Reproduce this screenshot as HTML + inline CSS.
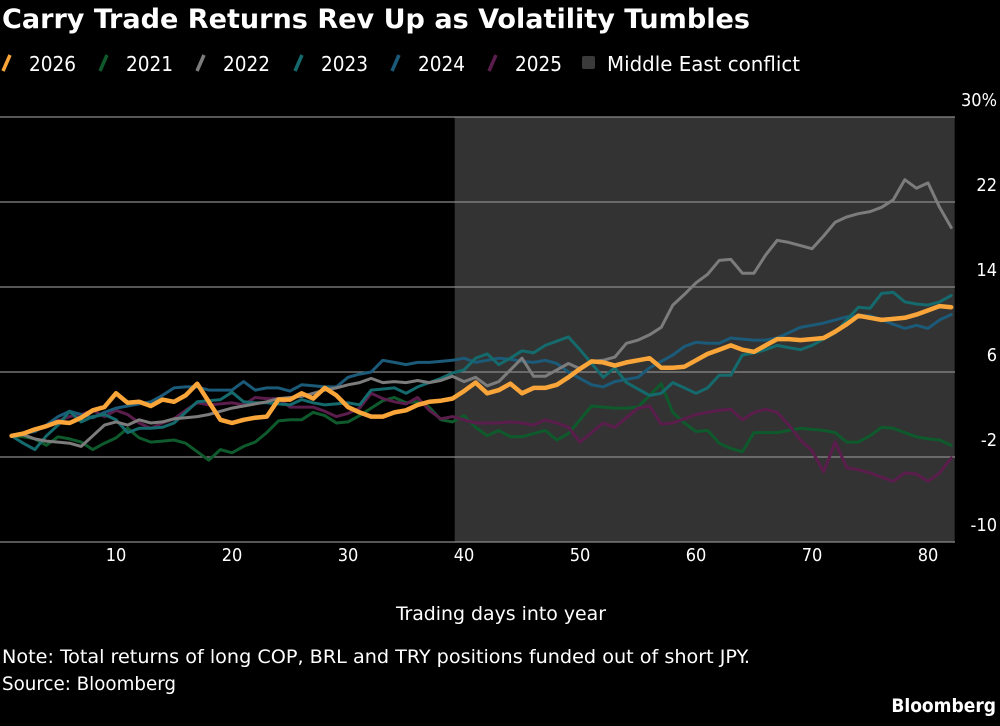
<!DOCTYPE html>
<html><head><meta charset="utf-8">
<style>
body{margin:0;background:#000;width:1000px;height:722px;overflow:hidden;font-family:"DejaVu Sans Condensed","DejaVu Sans","Liberation Sans",sans-serif;color:#fff}
svg text{font-family:"DejaVu Sans Condensed","DejaVu Sans","Liberation Sans",sans-serif;fill:#fff}
</style></head><body>
<svg id="chart" width="1000" height="722" viewBox="0 0 1000 722">
<rect width="1000" height="722" fill="#000"/>
<text x="2" y="28" font-size="27" font-weight="bold" textLength="748" lengthAdjust="spacingAndGlyphs">Carry Trade Returns Rev Up as Volatility Tumbles</text>
<g id="legend"></g>
<rect id="shade" fill="#333" />
<g id="grid"></g>
<g id="series"></g>
<g id="xticks"></g>
<text x="396" y="620" font-size="19" textLength="210" lengthAdjust="spacingAndGlyphs">Trading days into year</text>
<text x="2" y="663" font-size="19" textLength="748" lengthAdjust="spacingAndGlyphs">Note: Total returns of long COP, BRL and TRY positions funded out of short JPY.</text>
<text x="2" y="690" font-size="19" textLength="174" lengthAdjust="spacingAndGlyphs">Source: Bloomberg</text>
<text x="996" y="712" font-size="19" font-weight="bold" text-anchor="end">Bloomberg</text>
</svg>
<script>
const yTicks=[30,22,14,6,-2,-10];
const yTickLabels=["30%","22","14","6","-2","-10"];
const xTicks=[10,20,30,40,50,60,70,80];
const conflictStart=39.2, conflictEnd=82.3;
const seriesNames=["2026","2021","2022","2023","2024","2025"];
const s2021=[0,-0.1,-0.3,-0.9,-0.1,-0.3,-0.6,-1.3,-0.7,-0.2,0.7,-0.2,-0.6,-0.5,-0.4,-0.7,-1.5,-2.3,-1.3,-1.6,-1.0,-0.6,0.3,1.4,1.5,1.5,2.2,1.9,1.2,1.3,1.9,2.6,3.3,3.6,3.1,3.2,2.7,1.5,1.3,1.9,0.8,0.0,0.5,-0.1,-0.1,0.2,0.5,-0.4,0.2,1.5,2.8,2.7,2.6,2.6,2.7,3.8,4.9,2.2,1.2,0.4,0.5,-0.7,-1.2,-1.5,0.3,0.3,0.3,0.5,0.7,0.6,0.5,0.3,-0.6,-0.6,0.0,0.8,0.7,0.3,-0.1,-0.3,-0.4,-0.9];
const s2022=[0,0.1,-0.3,-0.5,-0.6,-0.7,-1.0,0.0,1.0,1.3,1.0,1.5,1.2,1.3,1.6,1.7,1.8,2.0,2.3,2.6,2.8,3.0,3.2,3.5,3.6,3.7,4.0,4.3,4.5,4.8,5.0,5.4,5.0,5.1,5.0,5.2,5.0,5.2,5.6,5.1,5.5,4.7,5.1,6.2,7.3,5.6,5.6,6.2,6.8,6.3,7.0,7.1,7.4,8.7,9.0,9.5,10.2,12.3,13.3,14.4,15.2,16.5,16.6,15.3,15.3,17.0,18.4,18.2,17.9,17.6,18.8,20.1,20.6,20.9,21.1,21.5,22.2,24.1,23.3,23.8,21.5,19.6];
const s2023=[0,-0.7,-1.3,0.0,1.0,2.3,1.3,1.8,2.0,1.5,0.3,0.7,0.7,0.8,1.2,2.2,3.2,3.3,3.4,4.1,3.2,3.1,3.1,3.0,2.9,3.4,3.1,2.9,3.0,3.1,2.9,4.3,4.4,4.5,4.0,4.6,5.0,5.4,5.9,6.2,7.3,7.7,6.7,7.3,8.0,7.8,8.5,8.9,9.3,8.1,6.8,5.5,6.4,5.0,4.4,3.8,4.0,5.0,4.5,4.0,4.5,5.7,5.7,7.6,7.8,8.1,8.5,8.3,8.1,8.5,9.1,9.7,10.9,12.1,12.0,13.4,13.5,12.6,12.4,12.3,12.6,13.2];
const s2024=[0,0.2,0.4,1.0,1.8,2.3,2.0,1.7,2.2,2.6,2.8,3.0,3.2,3.8,4.5,4.6,4.6,4.3,4.3,4.3,5.1,4.3,4.5,4.5,4.2,4.8,4.7,4.6,4.6,5.5,5.8,6.0,7.1,6.9,6.7,6.9,6.9,7.0,7.1,7.3,6.9,7.1,7.3,7.2,7.0,6.9,7.1,6.8,6.0,5.4,4.8,4.6,5.1,5.3,5.5,6.4,7.0,7.6,8.4,8.8,8.7,8.7,9.2,9.1,9.0,9.0,9.2,9.7,10.2,10.4,10.6,10.9,11.2,11.3,11.3,10.9,10.5,10.1,10.4,10.1,10.9,11.4];
const s2025=[0,0.2,0.5,1.0,1.4,1.8,2.0,2.4,1.8,2.4,2.0,1.2,0.7,1.2,1.6,2.4,3.1,2.9,3.0,3.1,2.9,3.6,3.5,3.5,2.7,2.7,2.7,2.3,1.8,2.1,2.6,4.0,3.5,3.2,3.0,3.6,2.4,1.6,1.8,1.5,1.2,1.2,1.2,1.3,1.2,1.0,1.5,1.2,0.8,-0.6,0.3,1.2,0.8,1.7,2.6,2.8,1.1,1.2,1.6,2.0,2.2,2.4,2.5,1.5,2.2,2.5,2.2,1.0,-0.4,-1.4,-3.4,-0.6,-3.0,-3.2,-3.5,-3.9,-4.3,-3.5,-3.6,-4.3,-3.5,-2.1];
const s2026=[0,0.2,0.6,0.9,1.3,1.2,1.7,2.4,2.7,4.0,3.1,3.2,2.8,3.4,3.2,3.8,4.9,3.2,1.5,1.2,1.5,1.7,1.8,3.4,3.4,4.0,3.5,4.5,3.8,2.7,2.2,1.8,1.8,2.2,2.4,2.9,3.2,3.3,3.5,4.2,5.0,4.0,4.3,4.9,4.0,4.5,4.5,4.8,5.5,6.3,7.0,6.9,6.6,6.9,7.1,7.3,6.4,6.4,6.5,7.1,7.7,8.1,8.5,8.1,7.9,8.5,9.1,9.1,9.0,9.1,9.2,9.8,10.5,11.3,11.1,10.9,11.0,11.1,11.4,11.8,12.2,12.1];

const NS="http://www.w3.org/2000/svg";
const X=d=>116+(d-10)*11.6;
const Y=v=>117+(30-v)*10.625;
const PL=0, PR=955;
function mk(tag,attrs,parent){const e=document.createElementNS(NS,tag);for(const k in attrs)e.setAttribute(k,attrs[k]);parent.appendChild(e);return e;}

const shade=document.getElementById('shade');
shade.setAttribute('x',X(conflictStart));shade.setAttribute('y',Y(30));
shade.setAttribute('width',X(conflictEnd)-X(conflictStart));shade.setAttribute('height',Y(-10)-Y(30));

const grid=document.getElementById('grid');
yTicks.forEach((t,i)=>{
  const l=mk('line',{x1:PL,x2:PR,y1:Y(t),y2:Y(t),stroke:'#8a8a8a','stroke-width':1.3},grid);
  
  
  const tx=mk('text',{x:997,y:Y(t)-11,'font-size':18,'text-anchor':'end'},grid);
  tx.textContent=yTickLabels[i];
  
  
});
const xg=document.getElementById('xticks');
xTicks.forEach(t=>{
  const tx=mk('text',{x:X(t),y:561,'font-size':18,'text-anchor':'middle'},xg);
  tx.textContent=t;
  
  
});

const colors={"2026":"#f9a53a","2021":"#0e5a2c","2022":"#7c7c7c","2023":"#146a6c","2024":"#1b5a78","2025":"#5b1d4c"};
const data={"2026":s2026,"2021":s2021,"2022":s2022,"2023":s2023,"2024":s2024,"2025":s2025};
const sg=document.getElementById('series');
["2021","2025","2024","2023","2022","2026"].forEach(n=>{
  const pts=data[n].map((v,i)=>X(i+1).toFixed(1)+','+Y(v).toFixed(1)).join(' ');
  const p=mk('polyline',{points:pts,fill:'none',stroke:colors[n],'stroke-width':n==="2026"?4.5:3,'stroke-linejoin':'round','stroke-linecap':'round'},sg);
  
  
});

const lg=document.getElementById('legend');
const legX=[3,100,197,295,392,489];
seriesNames.forEach((n,i)=>{
  const x=legX[i];
  const m=mk('line',{x1:x,y1:71,x2:x+7,y2:55,stroke:colors[n],'stroke-width':3.5},lg);
  
  
  const t=mk('text',{x:x+26,y:71,'font-size':20,textLength:47,lengthAdjust:'spacingAndGlyphs'},lg);
  t.textContent=n;
  
  
});
const sq=mk('rect',{x:582,y:56,width:13,height:13,rx:2,fill:'#3a3a3a'},lg);


const ct=mk('text',{x:607,y:71,'font-size':20,textLength:193,lengthAdjust:'spacingAndGlyphs'},lg);
ct.textContent='Middle East conflict';


</script>
</body></html>
